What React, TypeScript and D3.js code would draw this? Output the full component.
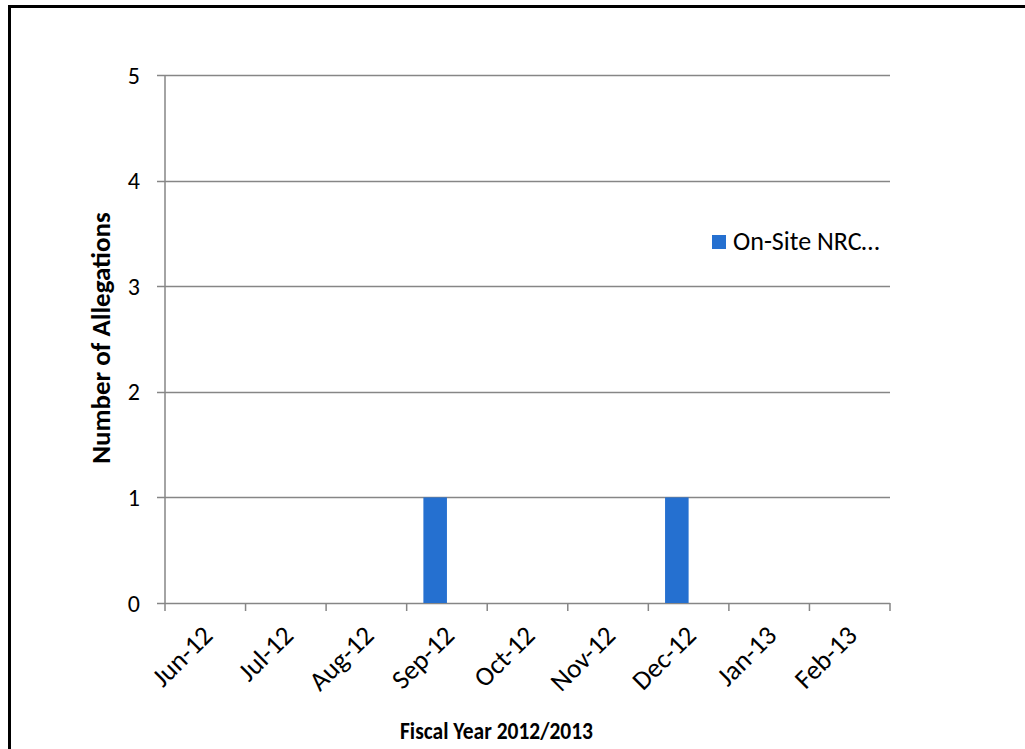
import React from "react";
import * as d3 from "d3";

const months = ["Jun-12", "Jul-12", "Aug-12", "Sep-12", "Oct-12", "Nov-12", "Dec-12", "Jan-13", "Feb-13"];
const onSiteValues = [0, 0, 0, 1, 0, 0, 1, 0, 0];
const seriesName = "On-Site NRC\u2026";
const slots = ["onsite", "other"];
const yTicks = [0, 1, 2, 3, 4, 5];

const W = 1025;
const H = 749;
const plot = { left: 165, right: 890, top: 75, bottom: 603 };
const FONT = "Carlito, Calibri, Lato, 'Open Sans', sans-serif";

export default function App() {
  const x = d3.scaleBand<string>().domain(months).range([plot.left, plot.right]).padding(0);
  const inner = d3.scaleBand<string>().domain(slots).range([0, x.bandwidth()]).paddingInner(0).paddingOuter(0.71);
  const y = d3.scaleLinear().domain([0, 5]).range([plot.bottom, plot.top]);
  const grid = "#868686";
  const blue = "#2570D0";

  return (
    <svg width={W} height={H} style={{ position: "absolute", left: 0, top: 0, background: "#fff" }} fontFamily={FONT}>
      <rect x={9.5} y={6.5} width={W + 20} height={H + 20} fill="#fff" stroke="#000" strokeWidth={3} />
      {yTicks.map((t) => (
        <g key={t}>
          <line x1={plot.left - 8} x2={plot.right} y1={Math.round(y(t)) + 0.5} y2={Math.round(y(t)) + 0.5} stroke={grid} strokeWidth={1.5} />
          <text x={140} y={y(t)} dy="0.36em" textAnchor="end" fontSize={24} fill="#000">{t}</text>
        </g>
      ))}
      <line x1={plot.left} x2={plot.left} y1={plot.top} y2={plot.bottom} stroke={grid} strokeWidth={1.5} />
      {months.map((m, i) => (
        <rect key={m} x={(x(m) as number) + (inner("onsite") as number)} y={y(onSiteValues[i])}
          width={inner.bandwidth()} height={plot.bottom - y(onSiteValues[i])} fill={blue} />
      ))}
      {[...months.map((m) => x(m) as number), plot.right].map((tx, i) => (
        <line key={i} x1={tx} x2={tx} y1={plot.bottom} y2={plot.bottom + 8} stroke={grid} strokeWidth={1.5} />
      ))}
      {months.map((m) => {
        const cx = (x(m) as number) + x.bandwidth() / 2 + 9;
        const cy = plot.bottom + 34;
        return (
          <text key={m} x={cx} y={cy} textAnchor="end" fontSize={27} fill="#000" transform={`rotate(-45 ${cx} ${cy})`}>{m}</text>
        );
      })}
      <text x={400} y={739} fontSize={24} fontWeight="bold" fill="#000" textLength={193} lengthAdjust="spacingAndGlyphs">Fiscal Year 2012/2013</text>
      <text x={110} y={338} textAnchor="middle" fontSize={27} fontWeight="bold" fill="#000" transform="rotate(-90 110 338)">Number of Allegations</text>
      <rect x={712} y={235} width={14} height={14} fill={blue} />
      <text x={733} y={250} fontSize={26} fill="#000">{seriesName}</text>
    </svg>
  );
}
